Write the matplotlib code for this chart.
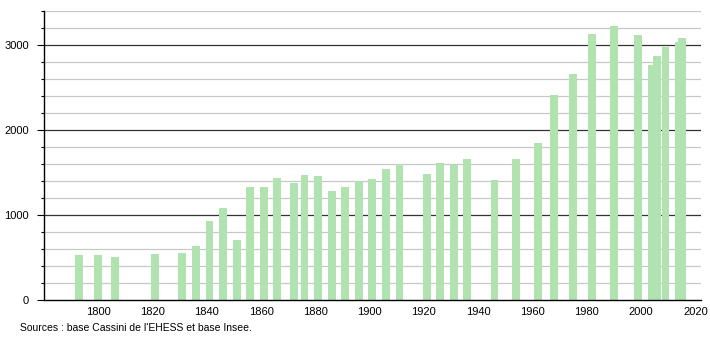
import matplotlib.pyplot as plt
from matplotlib.ticker import MultipleLocator
import numpy as np

# Recensements (année) et population
years = [1793, 1800, 1806, 1821, 1831, 1836, 1841, 1846, 1851, 1856,
         1861, 1866, 1872, 1876, 1881, 1886, 1891, 1896, 1901, 1906,
         1911, 1921, 1926, 1931, 1936, 1946, 1954, 1962, 1968, 1975,
         1982, 1990, 1999, 2004, 2006, 2009, 2014, 2015]
population = [528, 530, 506, 541, 549, 635, 929, 1085, 710, 1326,
              1324, 1431, 1376, 1467, 1459, 1282, 1326, 1396, 1420, 1537,
              1596, 1478, 1608, 1592, 1655, 1416, 1655, 1843, 2404, 2659,
              3125, 3220, 3110, 2761, 2871, 2973, 3035, 3078]
x_ticks = list(range(1800, 2021, 20))
y_ticks = [0, 1000, 2000, 3000]
source_text = "Sources : base Cassini de l'EHESS et base Insee."


def plot_population():
    plt.rcParams['font.family'] = ['Liberation Sans', 'DejaVu Sans']
    fig = plt.figure(figsize=(7.1, 3.4), dpi=100)
    ax = fig.add_axes([0.062, 0.1176, 0.925, 0.851])

    # Grille : mineure tous les 200, majeure tous les 1000
    for v in np.arange(200, 3401, 200):
        if v % 1000 == 0:
            ax.axhline(v, color="#333333", linewidth=0.9, zorder=1)
        else:
            ax.axhline(v, color="#c8c8c8", linewidth=0.9, zorder=1)

    ax.bar(years, population, width=2.9, color="#b1e3b1", zorder=2)

    ax.set_xlim(1780, 2022)
    ax.set_ylim(0, 3400)
    ax.set_xticks(x_ticks)
    ax.set_yticks(y_ticks)
    ax.yaxis.set_minor_locator(MultipleLocator(200))
    ax.tick_params(axis="x", length=0, labelsize=8, pad=5)
    ax.tick_params(axis="y", which="major", length=5, width=0.8, labelsize=8, pad=6)
    ax.tick_params(axis="y", which="minor", length=2.5, width=0.8)

    for side in ["top", "right"]:
        ax.spines[side].set_visible(False)
    ax.spines["left"].set_linewidth(1)
    ax.spines["bottom"].set_linewidth(1)

    fig.text(20 / 710, 1 - 328 / 340, source_text, fontsize=7.5, va="center", ha="left")
    fig.savefig("out.png", dpi=100)


plot_population()
